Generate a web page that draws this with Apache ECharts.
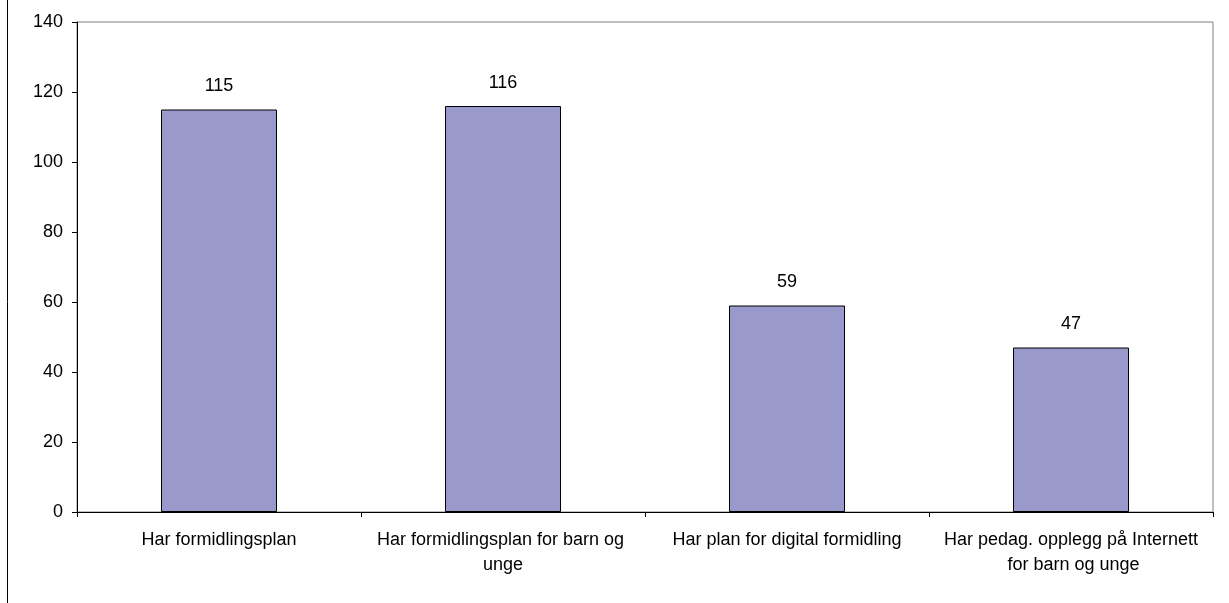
<!DOCTYPE html>
<html><head><meta charset="utf-8">
<script src="https://cdn.jsdelivr.net/npm/echarts@6/dist/echarts.min.js"></script>
<style>html,body{margin:0;padding:0;background:#fff}#c{width:1229px;height:603px}</style>
</head><body><div id="c"></div>
<script>
const categories = ['Har formidlingsplan', 'Har formidlingsplan for barn og unge', 'Har plan for digital formidling', 'Har pedag. opplegg på Internett for barn og unge'];
const values = [115, 116, 59, 47];
const yTicks = [0, 20, 40, 60, 80, 100, 120, 140];

const chart = echarts.init(document.getElementById('c'));
const font = 'Liberation Sans, Arial, sans-serif';
chart.setOption({
  animation: false,
  backgroundColor: '#fff',
  graphic: [{type: 'line', shape: {x1: 7.5, y1: 0, x2: 7.5, y2: 603}, style: {stroke: '#000', lineWidth: 1}}],
  grid: {left: 77, right: 16, top: 22, bottom: 91, show: true, borderColor: '#808080', borderWidth: 1, backgroundColor: 'transparent'},
  xAxis: {
    type: 'category', data: categories,
    axisLine: {lineStyle: {color: '#000', width: 1}},
    axisTick: {show: true, length: 5, lineStyle: {color: '#000'}},
    axisLabel: {interval: 0, color: '#000', fontFamily: font, fontSize: 18, margin: 16, lineHeight: 25, width: 266, overflow: 'break'}
  },
  yAxis: {
    type: 'value', min: yTicks[0], max: yTicks[yTicks.length - 1], interval: 20,
    axisLine: {show: true, lineStyle: {color: '#000', width: 1}},
    axisTick: {show: true, length: 5, lineStyle: {color: '#000'}},
    splitLine: {show: false},
    axisLabel: {color: '#000', fontFamily: font, fontSize: 18, margin: 14}
  },
  series: [{
    type: 'bar', data: values, barWidth: 116,
    itemStyle: {color: '#9999CC', borderColor: '#000', borderWidth: 1},
    label: {show: true, position: 'top', distance: 14, color: '#000', fontFamily: font, fontSize: 18}
  }]
});
</script></body></html>
